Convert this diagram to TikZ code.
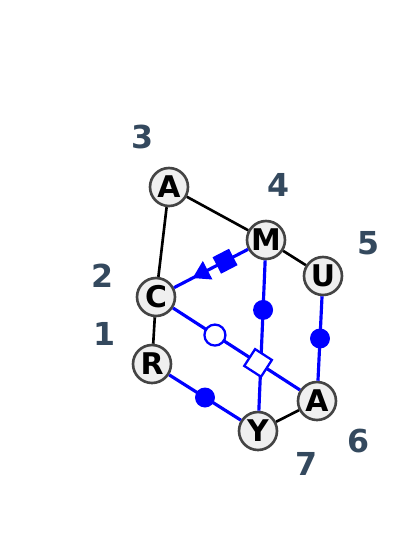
\documentclass[tikz,border=0pt]{standalone}
\usepackage{fontspec}
\setmainfont{DejaVu Sans}
\usetikzlibrary{positioning,calc,arrows.meta,decorations.markings}
\definecolor{numcol}{HTML}{34495E}
\definecolor{vfill}{HTML}{EFEFEF}
\definecolor{vline}{HTML}{444444}
\begin{document}
\begin{tikzpicture}[x=0.02cm, y=-0.02cm,
    vertex/.style={circle, draw=vline, fill=vfill, line width=1.5pt,
      minimum size=0.76cm, inner sep=0, font=\fontsize{17}{17}\selectfont\bfseries},
    num/.style={text=numcol, font=\fontsize{18}{18}\selectfont\bfseries},
    plain/.style={draw=black, line width=1.5pt},
    link/.style={draw=blue, line width=1.8pt},
    dot/.style={circle, fill=blue, inner sep=0, minimum size=0.4cm},
    hole/.style={circle, draw=blue, fill=white, line width=1.3pt, inner sep=0,
      minimum size=0.42cm},
    solidbox/.style={rectangle, fill=blue, inner sep=0, minimum size=0.37cm, sloped},
    openbox/.style={rectangle, draw=blue, fill=white, line width=1.3pt, inner sep=0,
      minimum size=0.4cm, sloped}]
  \useasboundingbox (0,0) rectangle (400,542);
  % vertices
  \node[vertex] (a1) at (169,187) {A};
  \node[vertex] (m) at (266,240) {M};
  \node[vertex] (u) at (323,276) {U};
  \node[vertex] (c) at (156,297) {C};
  \node[vertex] (r) at (152,364) {R};
  \node[vertex] (a2) at (317,401) {A};
  \node[vertex] (y) at (258,431) {Y};
  % numbers
  \node[num] (n1) at (105,334) {1};
  \node[num] (n2) at (103,276) {2};
  \node[num] (n3) at (143,137) {3};
  \node[num] (n4) at (279,185) {4};
  \node[num] (n5) at (369,243) {5};
  \node[num] (n6) at (359,441) {6};
  \node[num] (n7) at (307,464) {7};
  % black edges
  \draw[plain] (a1) -- (m);
  \draw[plain] (a1) -- (c);
  \draw[plain] (m) -- (u);
  \draw[plain] (c) -- (r);
  \draw[plain] (y) -- (a2);
  % blue edges
  \draw[link, postaction={decorate}, decoration={markings,
      mark=at position 0.75 with {\arrow{Triangle[length=0.34cm, width=0.4cm]}}}]
    (m) -- node[solidbox, pos=0.31] (sq) {} (c);
  \draw[link] (m) -- node[dot, pos=0.33] (d1) {} (y);
  \draw[link] (u) -- node[dot, pos=0.5] (d2) {} (a2);
  \draw[link] (r) -- node[dot, pos=0.5] (d3) {} (y);
  \draw[link] (c) -- node[hole, pos=0.33] (h1) {}
    node[openbox, pos=0.67] (ob) {} (a2);
\end{tikzpicture}
\end{document}
